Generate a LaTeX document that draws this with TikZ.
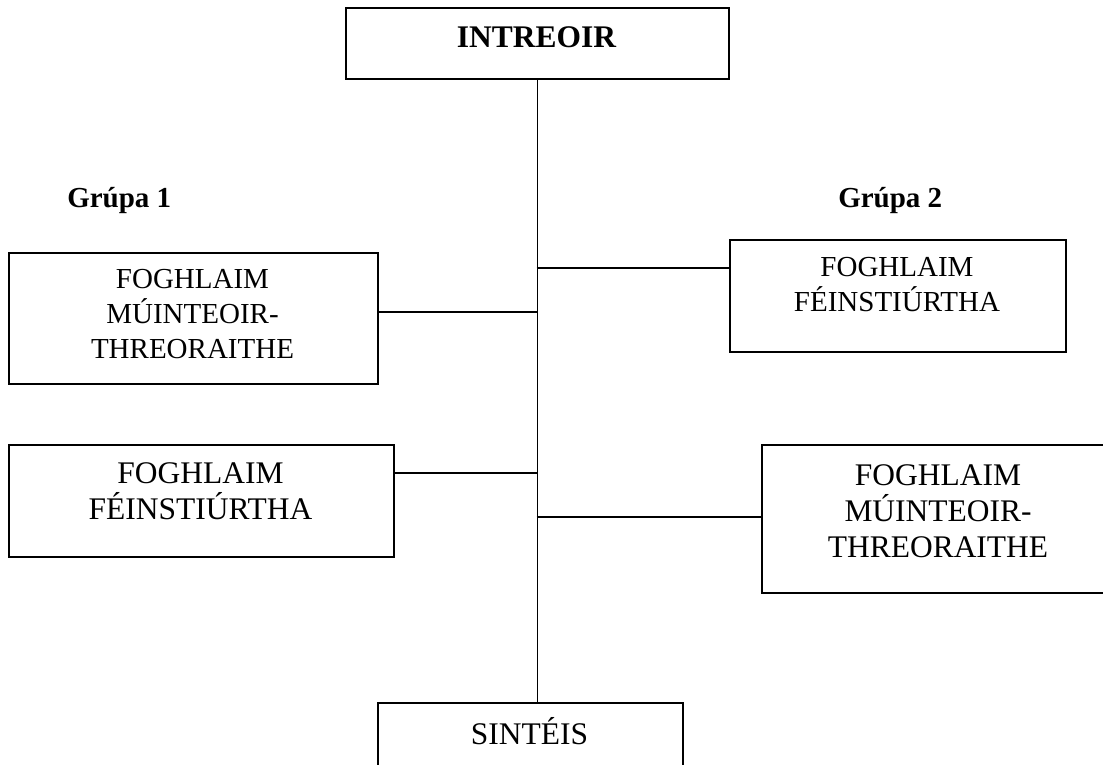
\documentclass[tikz,border=0pt]{standalone}
\usepackage{fontspec}
\setmainfont{Liberation Serif}
\begin{document}
\begin{tikzpicture}[x=0.75pt,y=-0.75pt,
  box/.style={draw=black,line width=1.5pt,inner sep=0pt,anchor=north west},
  conn/.style={draw=black,line width=1.4pt},
  smalltxt/.style={align=center,inner sep=0pt,font=\fontsize{21.75}{26}\selectfont},
  bigtxt/.style={align=center,inner sep=0pt,font=\fontsize{23.6}{27}\selectfont},
  grp/.style={inner sep=0pt,anchor=base west,font=\fontsize{21.75}{26}\selectfont\bfseries}]
\useasboundingbox (0,0) rectangle (1103,764);
\clip (0,0) rectangle (1103,764);
% boxes
\node[box,minimum width=287.25pt,minimum height=53.25pt] (intro) at (345,7) {};
\node[box,minimum width=276.75pt,minimum height=98.25pt] (lb1) at (8,252) {};
\node[box,minimum width=252pt,minimum height=84pt] (rb1) at (729,239) {};
\node[box,minimum width=288.75pt,minimum height=84pt] (lb2) at (8,444) {};
\node[box,minimum width=265.5pt,minimum height=111pt] (rb2) at (761,444) {};
\node[box,minimum width=228.75pt,minimum height=66pt] (synth) at (377,702) {};
% texts
\node[bigtxt,anchor=base,font=\fontsize{23.6}{27}\selectfont\bfseries] (introt) at (536.5,47.5) {INTREOIR};
\node[grp] (g1) at (67,207) {Grúpa 1};
\node[grp] (g2) at (838,207) {Grúpa 2};
\node[smalltxt] (lb1t) at (192.5,314) {FOGHLAIM\\MÚINTEOIR-\\THREORAITHE};
\node[smalltxt] (rb1t) at (897,284.5) {FOGHLAIM\\FÉINSTIÚRTHA};
\node[bigtxt] (lb2t) at (200.5,491) {FOGHLAIM\\FÉINSTIÚRTHA};
\node[bigtxt] (rb2t) at (938,511) {FOGHLAIM\\MÚINTEOIR-\\THREORAITHE};
\node[bigtxt,anchor=base] (synt) at (529.5,744) {SINTÉIS};
% trunk
\draw[conn] (intro.south) -- (intro.south |- synth.north);
\coordinate (j1) at (536.5,268);
\coordinate (j2) at (536.5,312);
\coordinate (j3) at (536.5,473);
\coordinate (j4) at (536.5,517);
\draw[conn] (j1) -- (j1 -| rb1.west);
\draw[conn] (j2) -- (j2 -| lb1.east);
\draw[conn] (j3) -- (j3 -| lb2.east);
\draw[conn] (j4) -- (j4 -| rb2.west);
\end{tikzpicture}
\end{document}
